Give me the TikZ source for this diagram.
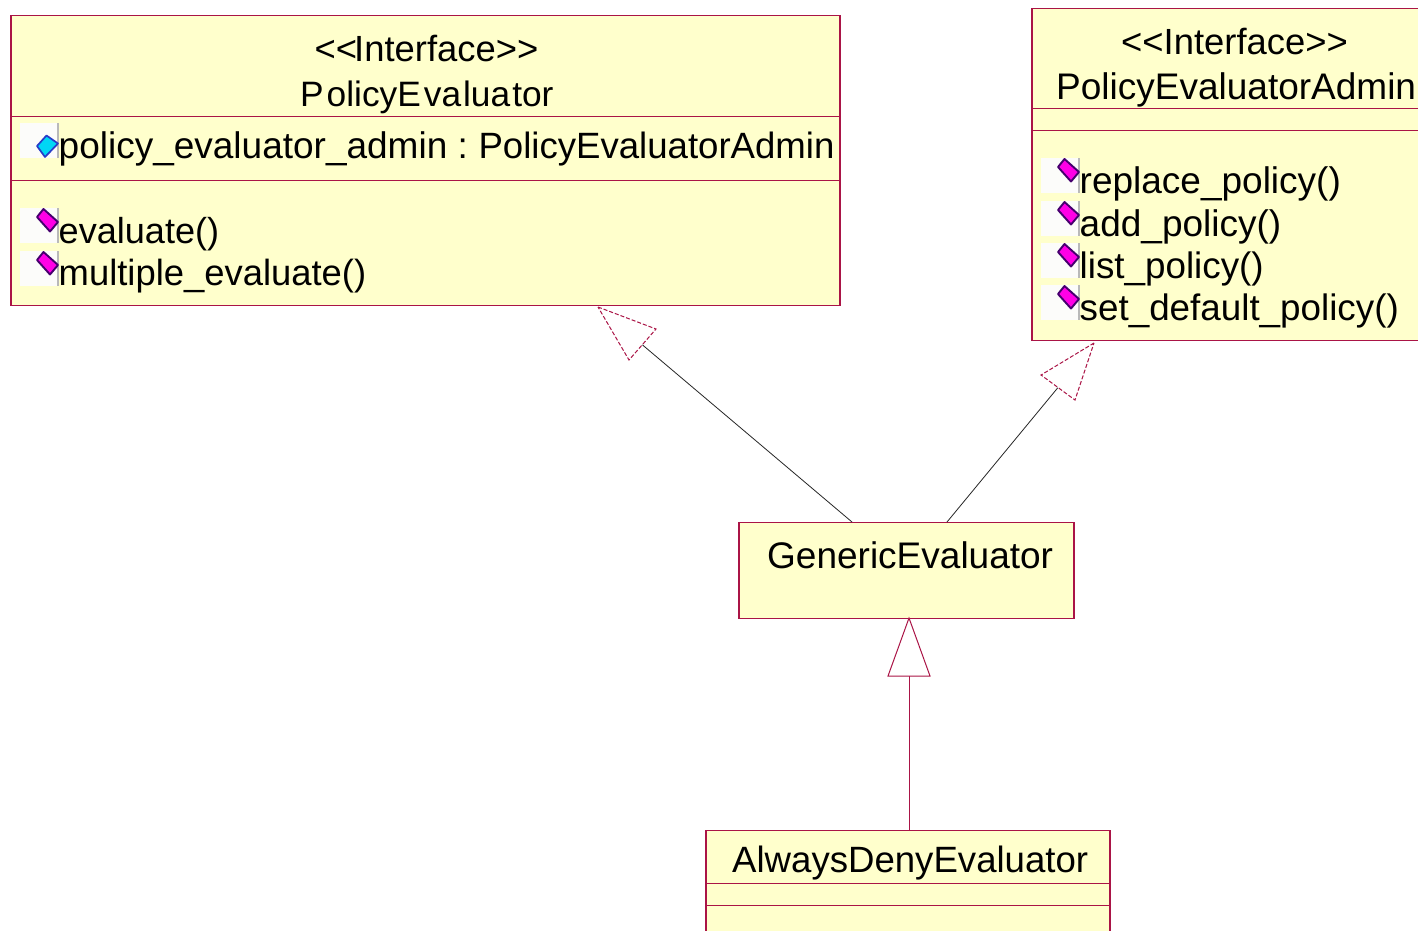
\documentclass[tikz,border=0pt]{standalone}
\usepackage{fontspec}
\setmainfont{Liberation Sans}
\definecolor{umlfill}{RGB}{255,255,204}
\definecolor{umlline}{RGB}{170,20,70}
\definecolor{iconbg}{RGB}{252,252,250}
\definecolor{iconbar}{RGB}{185,185,185}
\definecolor{attrfill}{RGB}{0,215,245}
\definecolor{attredge}{RGB}{40,60,200}
\definecolor{opfill}{RGB}{255,0,230}
\definecolor{opedge}{RGB}{70,0,110}
\tikzset{
  x=1pt,y=-1pt,
  umlbox/.style={draw=umlline,fill=umlfill,line width=1.4pt,inner sep=0pt,minimum width=#1},
  divider/.style={draw=umlline,line width=1.1pt},
  fs/.style={font=\fontsize{#1}{#1}\selectfont},
  label/.style={fs=37,text=black,inner sep=0pt,anchor=base west},
  clabel/.style={fs=37,text=black,inner sep=0pt,anchor=base},
  realize/.style={draw=black!85,line width=0.8pt},
  realhead/.style={draw=umlline,line width=1pt,dash pattern=on 4pt off 2pt,fill=white},
  genline/.style={draw=umlline,line width=1pt},
  genhead/.style={draw=umlline,line width=1pt,fill=white},
}
\newcommand{\iconback}[2]{%
  \fill[iconbg] (#1,#2) rectangle ++(37,35);
  \fill[iconbar] (#1+37,#2) rectangle ++(2,35);
}
\newcommand{\attricon}[2]{\iconback{#1}{#2}%
  \draw[fill=attrfill,draw=attredge,line width=1.7pt,line join=round]
    (#1+26.5,#2+12.5) -- (#1+38,#2+20.5) -- (#1+25,#2+34) -- (#1+17,#2+23) -- cycle;
}
\newcommand{\opicon}[2]{\iconback{#1}{#2}%
  \draw[fill=opfill,draw=opedge,line width=1.9pt,line join=round]
    (#1+23.5,#2+1) -- (#1+38,#2+14) -- (#1+30,#2+23.5) -- (#1+17,#2+9) -- cycle;
}
\begin{document}
\begin{tikzpicture}
\useasboundingbox (0,0) rectangle (1418,930);
\clip (0,0) rectangle (1418,930);
\fill[white] (0,0) rectangle (1418,930);

% boxes
\node[umlbox=829pt,minimum height=290pt,anchor=north west] (pe) at (10.3,14.5) {};
\node[umlbox=400pt,minimum height=332pt,anchor=north west] (pea) at (1031.3,7.5) {};
\node[umlbox=335pt,minimum height=96pt,anchor=north west] (ge) at (738.3,521.7) {};
\node[umlbox=404pt,minimum height=130pt,anchor=north west] (ade) at (705.3,829.5) {};

% dividers
\draw[divider] (11,116.7) -- (840,116.7);
\draw[divider] (11,180.7) -- (840,180.7);
\draw[divider] (1032,108.7) -- (1418,108.7);
\draw[divider] (1032,130.7) -- (1418,130.7);
\draw[divider] (706,883.5) -- (1110,883.5);
\draw[divider] (706,905.5) -- (1110,905.5);

% icons
\attricon{20}{123}
\opicon{20}{208}
\opicon{20}{251}
\opicon{1041}{158}
\opicon{1041}{201}
\opicon{1041}{243}
\opicon{1041}{285}

% texts
\node[clabel,fs=36.4] (pes) at (426.5,61) {<{}<\kern-3pt Interface>{}>};
\node[label,fs=35.3] (pen) at (300,106) {P\kern3pt olicyE\kern3pt va\kern2pt lua\kern2pt tor};
\node[label] (pa) at (58.5,158) {policy\_evaluator\_admin\kern10.4pt:\kern10.4pt\fontsize{36.6}{36.6}\selectfont PolicyEvaluatorAdmin};
\node[label,fs=36.1] (op1) at (58.5,243) {evaluate()};
\node[label,fs=36.4] (op2) at (58.5,285) {multiple\_evaluate()};
\node[clabel,fs=36.4] (peas) at (1234.5,54) {<{}<Interface>{}>};
\node[label] (pean) at (1056,99) {PolicyEvaluatorAdmin};
\node[label] (op3) at (1079.5,193) {replace\_policy()};
\node[label] (op4) at (1079.5,236) {add\_policy()};
\node[label,fs=36.8] (op5) at (1079.5,278) {list\_policy()};
\node[label,fs=36.8] (op6) at (1079.5,320) {set\_default\_policy()};
\node[label] (get) at (767,568) {GenericEvaluator};
\node[label,fs=36.6] (adet) at (732,872) {AlwaysDenyEvaluator};

% connector ends
\coordinate (t1) at (598,307);
\coordinate (t1a) at (656,329);
\coordinate (t1b) at (629,360);
\coordinate (t1m) at (642,344.5);
\coordinate (g1) at (852,522);
\coordinate (t2) at (1094,343);
\coordinate (t2a) at (1041,375);
\coordinate (t2b) at (1075,400);
\coordinate (t2m) at (1058,387.5);
\coordinate (g2) at (947,522);
\coordinate (t3) at (909,618);
\coordinate (t3a) at (888,676);
\coordinate (t3b) at (930,676);
\coordinate (t3m) at (909,676);
\coordinate (a3) at (909,830);

% connectors
\draw[realize] (g1) -- (t1m);
\draw[realhead] (t1) -- (t1a) -- (t1b) -- cycle;
\draw[realize] (g2) -- (t2m);
\draw[realhead] (t2) -- (t2a) -- (t2b) -- cycle;
\draw[genline] (a3) -- (t3m);
\draw[genhead] (t3) -- (t3a) -- (t3b) -- cycle;
\end{tikzpicture}
\end{document}
